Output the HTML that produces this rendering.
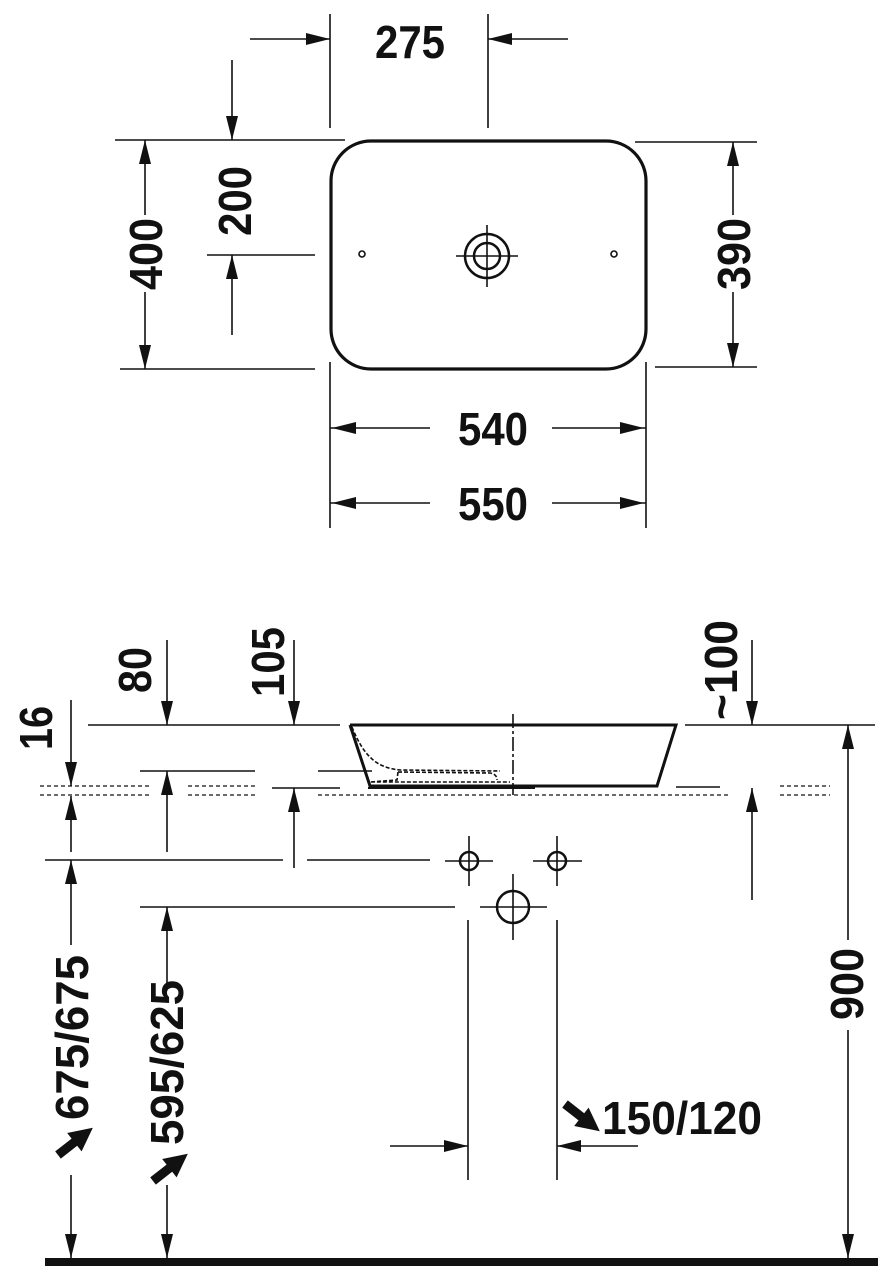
<!DOCTYPE html>
<html><head><meta charset="utf-8"><style>
html,body{margin:0;padding:0;background:#fff}
svg{display:block}
text{font-family:"Liberation Sans",sans-serif;font-weight:bold;fill:#111}
</style></head><body>
<svg width="878" height="1266" viewBox="0 0 878 1266" xmlns="http://www.w3.org/2000/svg">
<g stroke="#111" stroke-width="1.6" fill="none">
<rect x="331" y="141" width="315" height="228" rx="40" ry="40" stroke-width="3.2"/>
<circle cx="487" cy="256" r="22" stroke-width="2.5"/>
<circle cx="487" cy="256" r="13" stroke-width="2.5"/>
<line x1="487" y1="225" x2="487" y2="287"/><line x1="456" y1="256" x2="518" y2="256"/>
<circle cx="362" cy="254" r="3"/><circle cx="614" cy="254" r="3"/>
<line x1="330" y1="14" x2="330" y2="128"/><line x1="488" y1="14" x2="488" y2="128"/>
<line x1="250" y1="39" x2="330" y2="39"/><line x1="488" y1="39" x2="568" y2="39"/>
<line x1="115" y1="140" x2="345" y2="140"/>
<line x1="232" y1="60" x2="232" y2="140"/>
<line x1="207" y1="255" x2="315" y2="255"/>
<line x1="232" y1="255" x2="232" y2="335"/>
<line x1="145" y1="140" x2="145" y2="215"/><line x1="145" y1="292" x2="145" y2="369"/>
<line x1="120" y1="369" x2="315" y2="369"/>
<line x1="635" y1="142" x2="757" y2="142"/><line x1="655" y1="367" x2="757" y2="367"/>
<line x1="733" y1="142" x2="733" y2="215"/><line x1="733" y1="292" x2="733" y2="367"/>
<line x1="330" y1="362" x2="330" y2="528"/><line x1="646" y1="362" x2="646" y2="528"/>
<line x1="330" y1="428" x2="430" y2="428"/><line x1="552" y1="428" x2="646" y2="428"/>
<line x1="330" y1="503" x2="430" y2="503"/><line x1="552" y1="503" x2="646" y2="503"/>

<polyline points="350,725 676,725 657,786 370,786 350,725" stroke-width="3"/>
<path d="M352,727 C365,760 380,768 400,770 L500,771" stroke-dasharray="4,2"/>
<path d="M398,772 L397,780 L370,782 L510,782 M398,772 L490,773 Q497,774 497,780" stroke-dasharray="4,2"/>
<line x1="513" y1="714" x2="513" y2="795" stroke-dasharray="14,3,3,3"/>
<line x1="368" y1="788" x2="535" y2="788" stroke-width="2"/>
<line x1="88" y1="725" x2="340" y2="725"/>
<line x1="685" y1="725" x2="875" y2="725"/>
<line x1="140" y1="771" x2="255" y2="771"/>
<line x1="318" y1="771" x2="372" y2="771"/>
<line x1="272" y1="788" x2="340" y2="788"/>
<line x1="676" y1="787" x2="720" y2="787"/>
<g stroke-dasharray="4,3" stroke-width="1.3">
<line x1="40" y1="786" x2="150" y2="786"/><line x1="40" y1="795" x2="150" y2="795"/>
<line x1="188" y1="786" x2="256" y2="786"/><line x1="188" y1="795" x2="256" y2="795"/>
<line x1="318" y1="795" x2="728" y2="795"/>
<line x1="780" y1="786" x2="830" y2="786"/><line x1="780" y1="795" x2="830" y2="795"/>
</g>
<line x1="45" y1="860" x2="283" y2="860"/>
<line x1="307" y1="860" x2="430" y2="860"/>
<line x1="140" y1="907" x2="455" y2="907"/>
<circle cx="469" cy="861" r="9" stroke-width="2.5"/>
<circle cx="557" cy="861" r="9" stroke-width="2.5"/>
<circle cx="513" cy="907" r="16" stroke-width="2.5"/>
<line x1="445" y1="861" x2="493" y2="861"/><line x1="469" y1="836" x2="469" y2="886"/>
<line x1="533" y1="861" x2="582" y2="861"/><line x1="557" y1="836" x2="557" y2="886"/>
<line x1="480" y1="907" x2="547" y2="907"/><line x1="513" y1="874" x2="513" y2="940"/>
<line x1="71" y1="700" x2="71" y2="786"/><line x1="71" y1="796" x2="71" y2="852"/>
<line x1="71" y1="860" x2="71" y2="945"/><line x1="71" y1="1175" x2="71" y2="1258"/>
<line x1="167" y1="640" x2="167" y2="725"/><line x1="167" y1="771" x2="167" y2="852"/>
<line x1="294" y1="640" x2="294" y2="725"/><line x1="294" y1="788" x2="294" y2="868"/>
<line x1="752" y1="640" x2="752" y2="725"/><line x1="752" y1="788" x2="752" y2="900"/>
<line x1="848" y1="725" x2="848" y2="940"/><line x1="848" y1="1030" x2="848" y2="1258"/>
<line x1="167" y1="907" x2="167" y2="990"/><line x1="167" y1="1185" x2="167" y2="1258"/>
<line x1="468" y1="920" x2="468" y2="1180"/><line x1="557" y1="920" x2="557" y2="1180"/>
<line x1="390" y1="1146" x2="468" y2="1146"/><line x1="557" y1="1146" x2="638" y2="1146"/>
</g>
<g fill="#111">
<polygon points="330,39 306,33 306,45"/>
<polygon points="488,39 512,33 512,45"/>
<polygon points="232,140 226,116 238,116"/>
<polygon points="232,255 226,279 238,279"/>
<polygon points="145,140 139,164 151,164"/>
<polygon points="145,369 139,345 151,345"/>
<polygon points="733,142 727,166 739,166"/>
<polygon points="733,367 727,343 739,343"/>
<polygon points="332,428 356,422 356,434"/><polygon points="644,428 620,422 620,434"/>
<polygon points="332,503 356,497 356,509"/><polygon points="644,503 620,497 620,509"/>
<polygon points="71,786 65,762 77,762"/><polygon points="71,796 65,820 77,820"/>
<polygon points="71,860 65,884 77,884"/><polygon points="71,1258 65,1234 77,1234"/>
<polygon points="167,725 161,701 173,701"/><polygon points="167,771 161,795 173,795"/>
<polygon points="294,725 288,701 300,701"/><polygon points="294,788 288,812 300,812"/>
<polygon points="752,725 746,701 758,701"/><polygon points="752,788 746,812 758,812"/>
<polygon points="848,725 842,749 854,749"/><polygon points="848,1258 842,1234 854,1234"/>
<polygon points="167,907 161,931 173,931"/><polygon points="167,1258 161,1234 173,1234"/>
<polygon points="468,1146 444,1140 444,1152"/><polygon points="557,1146 581,1140 581,1152"/>
<rect x="45" y="1258" width="833" height="8"/>
<g transform="translate(58,1155) rotate(-38) scale(1.3)"><rect x="0" y="-3.5" width="18" height="7"/><polygon points="16,-9 34,0 16,9"/></g>
<g transform="translate(153,1181) rotate(-38) scale(1.3)"><rect x="0" y="-3.5" width="18" height="7"/><polygon points="16,-9 34,0 16,9"/></g>
<g transform="translate(565,1104) rotate(38) scale(1.3)"><rect x="0" y="-3.5" width="18" height="7"/><polygon points="16,-9 34,0 16,9"/></g>
</g>
<text x="375" y="58" font-size="46" textLength="70" lengthAdjust="spacingAndGlyphs">275</text>
<text x="458" y="445" font-size="46" textLength="70" lengthAdjust="spacingAndGlyphs">540</text>
<text x="458" y="520" font-size="46" textLength="70" lengthAdjust="spacingAndGlyphs">550</text>
<text x="602" y="1134" font-size="46" textLength="160" lengthAdjust="spacingAndGlyphs">150/120</text>
<g font-size="46">
<text transform="translate(251,236) rotate(-90)" textLength="70" lengthAdjust="spacingAndGlyphs">200</text>
<text transform="translate(162,290) rotate(-90)" textLength="72" lengthAdjust="spacingAndGlyphs">400</text>
<text transform="translate(750,290) rotate(-90)" textLength="72" lengthAdjust="spacingAndGlyphs">390</text>
<text transform="translate(52,750) rotate(-90)" textLength="44" lengthAdjust="spacingAndGlyphs">16</text>
<text transform="translate(151,693) rotate(-90)" textLength="46" lengthAdjust="spacingAndGlyphs">80</text>
<text transform="translate(284,697) rotate(-90)" textLength="70" lengthAdjust="spacingAndGlyphs">105</text>
<text transform="translate(737,720) rotate(-90)" textLength="100" lengthAdjust="spacingAndGlyphs">~100</text>
<text transform="translate(863,1020) rotate(-90)" textLength="72" lengthAdjust="spacingAndGlyphs">900</text>
<text transform="translate(88,1120) rotate(-90)" textLength="165" lengthAdjust="spacingAndGlyphs">675/675</text>
<text transform="translate(183,1145) rotate(-90)" textLength="165" lengthAdjust="spacingAndGlyphs">595/625</text>
</g>
</svg>
</body></html>
